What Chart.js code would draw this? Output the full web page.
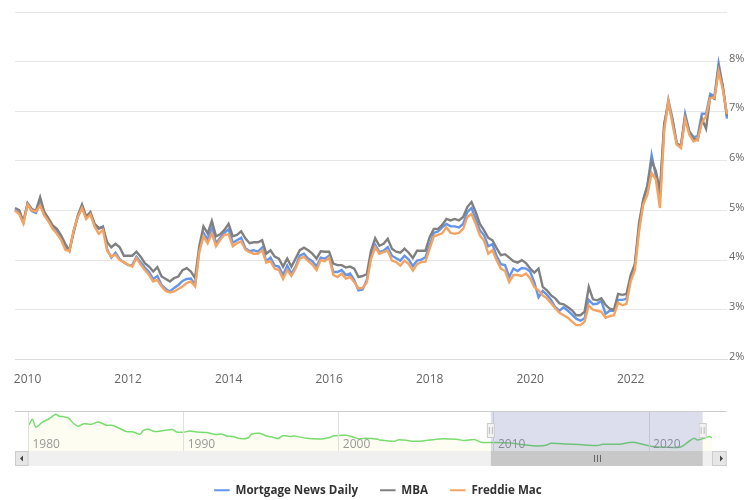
<!DOCTYPE html>
<html>
<head>
<meta charset="utf-8">
<title>Mortgage rates</title>
<script src="https://cdn.jsdelivr.net/npm/chart.js@4/dist/chart.umd.min.js"></script>
<style>
  html, body { margin: 0; padding: 0; background: #fff; overflow: hidden; }
  #wrap { position: relative; width: 755px; height: 500px; overflow: hidden; }
  #main { position: absolute; left: 0; top: 0; }
  #nav { position: absolute; left: 0; top: 400px; }
</style>
</head>
<body>
<div id="wrap">
  <canvas id="main" width="755" height="506"></canvas>
  <canvas id="nav" width="755" height="70"></canvas>
</div>
<script>
// ----- Data -----
const months = [
  "2009-10","2009-11","2009-12",
  "2010-01","2010-02","2010-03","2010-04","2010-05","2010-06","2010-07","2010-08","2010-09","2010-10","2010-11","2010-12",
  "2011-01","2011-02","2011-03","2011-04","2011-05","2011-06","2011-07","2011-08","2011-09","2011-10","2011-11","2011-12",
  "2012-01","2012-02","2012-03","2012-04","2012-05","2012-06","2012-07","2012-08","2012-09","2012-10","2012-11","2012-12",
  "2013-01","2013-02","2013-03","2013-04","2013-05","2013-06","2013-07","2013-08","2013-09","2013-10","2013-11","2013-12",
  "2014-01","2014-02","2014-03","2014-04","2014-05","2014-06","2014-07","2014-08","2014-09","2014-10","2014-11","2014-12",
  "2015-01","2015-02","2015-03","2015-04","2015-05","2015-06","2015-07","2015-08","2015-09","2015-10","2015-11","2015-12",
  "2016-01","2016-02","2016-03","2016-04","2016-05","2016-06","2016-07","2016-08","2016-09","2016-10","2016-11","2016-12",
  "2017-01","2017-02","2017-03","2017-04","2017-05","2017-06","2017-07","2017-08","2017-09","2017-10","2017-11","2017-12",
  "2018-01","2018-02","2018-03","2018-04","2018-05","2018-06","2018-07","2018-08","2018-09","2018-10","2018-11","2018-12",
  "2019-01","2019-02","2019-03","2019-04","2019-05","2019-06","2019-07","2019-08","2019-09","2019-10","2019-11","2019-12",
  "2020-01","2020-02","2020-03","2020-04","2020-05","2020-06","2020-07","2020-08","2020-09","2020-10","2020-11","2020-12",
  "2021-01","2021-02","2021-03","2021-04","2021-05","2021-06","2021-07","2021-08","2021-09","2021-10","2021-11","2021-12",
  "2022-01","2022-02","2022-03","2022-04","2022-05","2022-06","2022-07","2022-08","2022-09","2022-10","2022-11","2022-12",
  "2023-01","2023-02","2023-03","2023-04","2023-05","2023-06","2023-07","2023-08","2023-09","2023-10","2023-11","2023-12"
];

const mortgageNewsDaily = [
  5.02,4.95,4.75,
  5.13,4.99,4.95,5.14,4.91,4.79,4.65,4.56,4.42,4.25,4.20,4.58,
  4.88,5.07,4.85,4.94,4.72,4.63,4.68,4.22,4.05,4.15,4.02,3.95,
  3.90,3.90,4.07,3.96,3.85,3.76,3.62,3.68,3.50,3.42,3.37,3.44,
  3.50,3.58,3.62,3.63,3.50,4.20,4.55,4.42,4.65,4.34,4.45,4.55,
  4.62,4.35,4.40,4.45,4.24,4.18,4.20,4.17,4.25,3.98,4.05,3.89,
  3.87,3.70,3.89,3.73,3.87,4.09,4.13,4.03,3.98,3.87,4.05,4.03,
  4.09,3.76,3.76,3.80,3.70,3.73,3.60,3.39,3.41,3.60,4.09,4.31,
  4.16,4.19,4.26,4.09,4.04,3.99,4.09,4.01,3.88,3.99,4.01,4.06,
  4.29,4.55,4.58,4.66,4.73,4.68,4.68,4.66,4.73,4.97,5.05,4.83,
  4.60,4.50,4.28,4.32,4.08,3.92,3.90,3.66,3.83,3.78,3.84,3.83,
  3.77,3.55,3.25,3.38,3.30,3.20,3.05,2.98,3.05,2.98,2.90,2.82,
  2.78,2.83,3.20,3.11,3.12,3.18,2.92,2.98,2.98,3.20,3.20,3.22,
  3.65,3.90,4.65,5.20,5.50,6.12,5.70,5.30,6.70,7.23,6.85,6.35,
  6.30,6.95,6.60,6.48,6.50,6.95,6.95,7.35,7.30,7.97,7.50,6.85
];

const mba = [
  5.05,5.01,4.78,
  5.15,5.03,5.00,5.27,4.97,4.84,4.70,4.63,4.50,4.33,4.19,4.56,
  4.90,5.12,4.88,4.97,4.73,4.65,4.66,4.36,4.26,4.33,4.26,4.09,
  4.09,4.09,4.17,4.07,3.94,3.87,3.77,3.86,3.67,3.62,3.57,3.64,
  3.67,3.80,3.84,3.77,3.64,4.28,4.68,4.54,4.79,4.48,4.52,4.61,
  4.73,4.48,4.51,4.58,4.44,4.34,4.36,4.36,4.40,4.13,4.20,4.07,
  4.03,3.87,4.03,3.87,4.03,4.20,4.25,4.20,4.13,4.03,4.18,4.17,
  4.17,3.93,3.90,3.90,3.85,3.87,3.83,3.66,3.68,3.72,4.19,4.44,
  4.29,4.33,4.43,4.23,4.17,4.15,4.23,4.15,4.04,4.19,4.19,4.19,
  4.46,4.63,4.63,4.71,4.83,4.80,4.83,4.80,4.87,5.07,5.17,4.97,
  4.73,4.60,4.45,4.40,4.24,4.10,4.12,4.05,3.98,3.95,4.00,3.94,
  3.83,3.75,3.83,3.46,3.39,3.29,3.23,3.13,3.11,3.05,2.99,2.89,
  2.89,2.96,3.46,3.21,3.19,3.23,3.10,3.02,3.00,3.32,3.30,3.32,
  3.70,3.92,4.75,5.22,5.50,6.00,5.80,5.40,6.75,7.15,6.80,6.35,
  6.30,6.88,6.58,6.45,6.42,6.85,6.65,7.30,7.25,7.88,7.50,6.90
];

const freddieMac = [
  5.00,4.93,4.74,
  5.12,5.00,4.98,5.10,4.90,4.78,4.63,4.53,4.41,4.21,4.18,4.60,
  4.87,5.05,4.83,4.92,4.68,4.53,4.61,4.19,4.07,4.11,4.00,3.96,
  3.91,3.87,4.04,3.91,3.80,3.70,3.57,3.60,3.47,3.38,3.35,3.37,
  3.42,3.47,3.54,3.57,3.47,4.17,4.48,4.34,4.54,4.28,4.41,4.51,
  4.52,4.28,4.34,4.38,4.21,4.16,4.13,4.13,4.20,3.95,3.98,3.83,
  3.80,3.62,3.80,3.68,3.83,4.03,4.07,3.98,3.91,3.80,4.00,3.98,
  4.05,3.70,3.66,3.73,3.63,3.66,3.56,3.43,3.44,3.55,4.02,4.26,
  4.13,4.16,4.19,3.99,3.96,3.89,3.99,3.92,3.79,3.92,3.96,3.97,
  4.23,4.48,4.51,4.54,4.66,4.55,4.53,4.55,4.63,4.87,4.93,4.73,
  4.50,4.39,4.13,4.20,4.00,3.83,3.78,3.56,3.70,3.70,3.68,3.73,
  3.63,3.46,3.39,3.29,3.23,3.13,3.03,2.94,2.89,2.84,2.76,2.69,
  2.69,2.76,3.09,3.00,2.98,2.96,2.84,2.87,2.89,3.14,3.09,3.12,
  3.57,3.80,4.58,5.12,5.32,5.76,5.63,5.05,6.60,7.21,6.74,6.33,
  6.26,6.84,6.53,6.39,6.43,6.77,6.90,7.27,7.27,7.80,7.44,6.94
];

// long history shown in the navigator
const navYears = [
  1980.03,1980.25,1980.48,1980.85,1981.28,1981.75,1981.98,1982.24,1982.56,1982.89,1983.21,1983.53,
  1984.07,1984.5,1985.03,1985.35,1985.68,1986.32,1986.75,1987.18,1987.39,1987.71,1988.14,1988.68,
  1989.28,1989.54,1989.97,1990.4,1990.83,1991.47,1992.11,1992.44,1992.76,1993.19,1993.62,1994.15,
  1994.37,1994.9,1995.33,1995.76,1996.08,1996.41,1996.83,1997.16,1997.91,1998.87,1999.41,1999.62,
  2000.48,2000.91,2001.23,2001.77,2002.52,2002.63,2003.59,2003.81,2004.35,2004.77,2005.42,2006.49,
  2007.56,2008.1,2008.74,2009.17,2010.35,2011.21,2011.85,2012.82,2013.35,2013.68,2014.64,2015.5,
  2016.68,2017.0,2018.07,2018.93,2019.58,2020.11,2021.08,2022.04,2022.58,2022.9,2023.12,2023.55,
  2023.87,2024.05
];
const navRates = [
  12.99,15.64,11.9,14.08,15.64,17.97,17.04,16.88,16.26,13.77,12.37,13.46,
  13.3,14.39,12.83,12.83,12.05,9.87,9.72,8.63,10.34,10.96,9.87,10.34,
  10.81,9.72,9.56,10.18,9.72,9.41,8.47,8.78,7.85,7.54,6.6,6.91,
  8.63,9.09,7.85,7.23,6.6,8.0,7.54,7.85,6.76,6.45,7.07,7.85,
  8.16,7.38,6.6,6.76,6.29,5.98,5.36,5.98,5.82,5.36,5.51,6.45,
  6.29,5.67,6.13,4.89,4.73,4.42,3.8,3.17,3.49,4.42,4.11,3.8,
  3.33,3.95,3.95,4.89,3.95,3.02,2.55,2.71,5.36,6.76,5.98,6.76,
  7.54,6.91
];
const navTicks = [1980, 1990, 2000, 2010, 2020];
const rangeStart = 2009.8;
const rangeEnd = 2023.45;

const FONT = "'Open Sans', sans-serif";

// legend is centred on the page, not on the padded chart box
const centerLegend = {
  id: "centerLegend",
  afterLayout(chart) {
    chart.legend.left -= 7;
    chart.legend.right -= 7;
  }
};

// ----- Main chart -----
new Chart(document.getElementById("main"), {
  type: "line",
  data: {
    labels: months,
    datasets: [
      { label: "Mortgage News Daily", data: mortgageNewsDaily, borderColor: "#6495ed", backgroundColor: "#6495ed", order: 3 },
      { label: "MBA", data: mba, borderColor: "#808080", backgroundColor: "#808080", order: 2 },
      { label: "Freddie Mac", data: freddieMac, borderColor: "#f4a460", backgroundColor: "#f4a460", order: 1 }
    ]
  },
  options: {
    responsive: false,
    animation: false,
    layout: { padding: { left: 15, top: 12, right: 0, bottom: 0 } },
    elements: { point: { radius: 0 }, line: { borderWidth: 2.4, tension: 0 } },
    plugins: {
      tooltip: { enabled: false },
      legend: {
        position: "bottom",
        onClick: null,
        labels: {
          boxWidth: 15.5,
          boxHeight: 2,
          padding: 22,
          color: "#333",
          font: { family: FONT, size: 11.6, weight: "bold" },
          sort: (a, b) => a.datasetIndex - b.datasetIndex,
          generateLabels: chart => Chart.defaults.plugins.legend.labels.generateLabels(chart).map(l => ({ ...l, lineWidth: 0 }))
        }
      }
    },
    scales: {
      x: {
        type: "category",
        afterFit: s => { s.height = 103; },
        grid: { display: false },
        border: { color: "#dcdcdc" },
        ticks: {
          autoSkip: false,
          maxRotation: 0,
          padding: 5,
          color: "#666",
          font: { family: FONT, size: 12 },
          callback: function (v) {
            const m = this.getLabelForValue(v);
            const y = Number(m.slice(0, 4));
            return m.endsWith("-01") && y % 2 === 0 ? String(y) : "";
          }
        }
      },
      y: {
        position: "right",
        min: 2,
        max: 9,
        afterFit: s => { s.width = 28; },
        border: { display: false },
        grid: { color: "#e6e6e6", drawTicks: false },
        ticks: {
          stepSize: 1,
          padding: 2,
          labelOffset: -3,
          color: "#666",
          font: { family: FONT, size: 11 },
          callback: v => (v === 9 ? "" : v + "%")
        }
      }
    }
  },
  plugins: [centerLegend]
});

// ----- Navigator -----
function handle(ctx, x, y) {
  ctx.fillStyle = "#f2f2f2";
  ctx.strokeStyle = "#ccc";
  ctx.lineWidth = 1;
  ctx.fillRect(x - 4, y, 8, 15);
  ctx.strokeRect(x - 4 + 0.5, y + 0.5, 7, 14);
  ctx.strokeStyle = "#bbb";
  ctx.beginPath();
  ctx.moveTo(x - 1.5, y + 4); ctx.lineTo(x - 1.5, y + 11);
  ctx.moveTo(x + 1.5, y + 4); ctx.lineTo(x + 1.5, y + 11);
  ctx.stroke();
}

const navChrome = {
  id: "navChrome",
  afterDraw(chart) {
    const { ctx, chartArea: a, scales } = chart;
    const x0 = scales.x.getPixelForValue(rangeStart);
    const x1 = scales.x.getPixelForValue(rangeEnd);
    ctx.save();
    // selected range mask
    ctx.fillStyle = "rgba(80,90,170,0.2)";
    ctx.fillRect(x0, a.top, x1 - x0, a.bottom - a.top);
    // top border
    ctx.fillStyle = "#ccc";
    ctx.fillRect(15, a.top, a.right - 15, 1);
    // scrollbar track and buttons
    const sy = a.bottom, sh = 15;
    ctx.fillStyle = "#f0f0f0";
    ctx.fillRect(a.left, sy, 712 - a.left, sh);
    ctx.fillStyle = "#e6e6e6";
    ctx.fillRect(15, sy, a.left - 15, sh);
    ctx.fillRect(712, sy, a.right - 712, sh);
    ctx.strokeStyle = "#ccc";
    ctx.lineWidth = 1;
    ctx.strokeRect(15.5, sy + 0.5, a.left - 16, sh - 1);
    ctx.strokeRect(712.5, sy + 0.5, a.right - 713, sh - 1);
    // thumb
    ctx.fillStyle = "#c8c8c8";
    ctx.fillRect(x0, sy, x1 - x0, sh);
    ctx.strokeStyle = "#666";
    ctx.beginPath();
    const mid = Math.round((x0 + x1) / 2);
    [-3, 0, 3].forEach(d => { ctx.moveTo(mid + d + 0.5, sy + 4); ctx.lineTo(mid + d + 0.5, sy + 11); });
    ctx.stroke();
    // arrows
    ctx.fillStyle = "#444";
    ctx.beginPath();
    ctx.moveTo(20, sy + 7.5); ctx.lineTo(23, sy + 4.5); ctx.lineTo(23, sy + 10.5); ctx.closePath();
    ctx.moveTo(723, sy + 7.5); ctx.lineTo(720, sy + 4.5); ctx.lineTo(720, sy + 10.5); ctx.closePath();
    ctx.fill();
    // handles
    handle(ctx, x0, a.top + 12);
    handle(ctx, x1, a.top + 12);
    ctx.restore();
  }
};

new Chart(document.getElementById("nav"), {
  type: "line",
  data: {
    datasets: [{
      data: navYears.map((y, i) => ({ x: y, y: navRates[i] })),
      borderColor: "#78dc6e",
      backgroundColor: "#fdfdf2",
      borderWidth: 1.5,
      fill: "start",
      tension: 0.25,
      pointRadius: 0
    }]
  },
  options: {
    responsive: false,
    animation: false,
    layout: { padding: { left: 28.5, right: 28.3, top: 11, bottom: 19 } },
    plugins: { legend: { display: false }, tooltip: { enabled: false } },
    scales: {
      x: {
        type: "linear",
        position: { y: 7.2 }, // labels sit inside the plot, over the fill
        min: 1980,
        max: 2025,
        afterBuildTicks: s => { s.ticks = navTicks.map(v => ({ value: v })); },
        border: { display: false },
        grid: { color: "#e0e0e0", drawTicks: false, z: 1 },
        ticks: {
          autoSkip: false,
          maxRotation: 0,
          align: "start",
          labelOffset: 4,
          padding: 0,
          z: 1,
          color: "#999",
          font: { family: FONT, size: 12 },
          callback: v => String(v)
        }
      },
      y: {
        display: false,
        min: 0.8,
        max: 19.5
      }
    }
  },
  plugins: [navChrome]
});
</script>
</body>
</html>
